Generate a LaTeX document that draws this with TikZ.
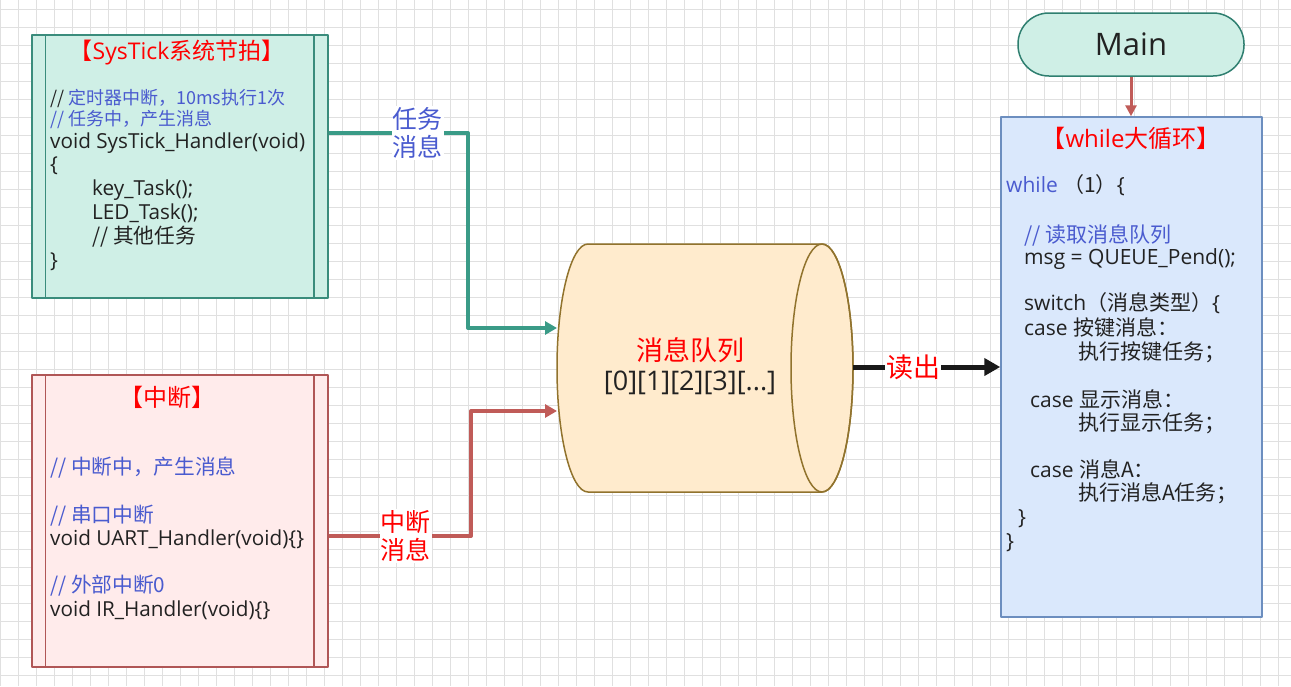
\documentclass[tikz,border=0pt]{standalone}
\usepackage{fontspec}
\setmainfont{Open Sans}
\newfontfamily\cjk{Noto Sans CJK SC}
\usetikzlibrary{arrows.meta}

\definecolor{mintfill}{HTML}{CFEFE6}
\definecolor{mintline}{HTML}{3A8C7C}
\definecolor{mainline}{HTML}{2F7F70}
\definecolor{pinkfill}{HTML}{FFEBEB}
\definecolor{pinkline}{HTML}{B05656}
\definecolor{bluefill}{HTML}{DAE8FC}
\definecolor{blueline}{HTML}{6C8EBF}
\definecolor{queuefill}{HTML}{FFEBCD}
\definecolor{queueline}{HTML}{91732D}
\definecolor{taskteal}{HTML}{3A9B87}
\definecolor{irqred}{HTML}{C05B58}
\definecolor{titlered}{HTML}{FF0000}
\definecolor{cmtblue}{HTML}{4A5BCF}
\definecolor{codegray}{HTML}{222222}
\definecolor{gridgray}{HTML}{E0E0E0}

\newcommand\titlefont{\fontsize{24}{28}\selectfont}
\newcommand\codefont{\fontsize{20.7}{24}\selectfont}
\newcommand\smallcode{\fontsize{18}{21}\selectfont}
\newcommand\loopfont{\fontsize{21}{24}\selectfont}

\tikzset{
  procbox/.style={draw, line width=1.5pt, minimum width=296pt, inner sep=0pt},
  boxtitle/.style={inner sep=0pt, text=titlered, font=\titlefont},
  code/.style={anchor=base west, inner sep=0pt, text=codegray, font=\codefont},
  cmt/.style={code, text=cmtblue, font=\cjk\codefont},
  msglabel/.style={fill=white, inner sep=1pt, align=center, font=\cjk\fontsize{25}{28}\selectfont},
}

\begin{document}
\begin{tikzpicture}[x=1pt, y=-1pt, line join=round]
  \useasboundingbox (0,0) rectangle (1291,686);
  \fill[white] (0,0) rectangle (1291,686);
  % grid background
  \foreach \gx in {0,18,...,1290}
    \draw[gridgray, line width=0.8pt] (\gx,0) -- (\gx,686);
  \foreach \gy in {9,27,...,683}
    \draw[gridgray, line width=0.8pt] (0,\gy) -- (1291,\gy);

  % SysTick box
  \node[procbox, draw=mintline, fill=mintfill, minimum height=263pt] (systick) at (180,166.5) {};
  \draw[mintline, line width=1.5pt] ([xshift=14pt]systick.north west) -- ([xshift=14pt]systick.south west);
  \draw[mintline, line width=1.5pt] ([xshift=-15pt]systick.north east) -- ([xshift=-15pt]systick.south east);
  \node[boxtitle, font=\fontsize{23}{27}\selectfont] (sttitle) at (177,53) {{\cjk 【}SysTick{\cjk 系统节拍】}};
  \node[cmt, font=\cjk\smallcode] (st1) at (50,104) {{\color{codegray}//} 定时器中断，10ms执行1次};
  \node[cmt, font=\cjk\smallcode] (st2) at (50,125) {// 任务中，产生消息};
  \node[code] (st3) at (50,148) {void SysTick\_Handler(void)};
  \node[code] (st4) at (50,171) {\{};
  \node[code] (st5) at (92,195) {key\_Task();};
  \node[code] (st6) at (92,219) {LED\_Task();};
  \node[code, font=\cjk\codefont] (st7) at (92,243) {// 其他任务};
  \node[code] (st8) at (50,267) {\}};

  % interrupt box
  \node[procbox, draw=pinkline, fill=pinkfill, minimum height=292pt] (irq) at (180,521) {};
  \draw[pinkline, line width=1.5pt] ([xshift=14pt]irq.north west) -- ([xshift=14pt]irq.south west);
  \draw[pinkline, line width=1.5pt] ([xshift=-15pt]irq.north east) -- ([xshift=-15pt]irq.south east);
  \node[boxtitle, font=\cjk\titlefont] (irqtitle) at (167,397) {【中断】};
  \node[cmt] (ir1) at (50,474) {// 中断中，产生消息};
  \node[cmt] (ir2) at (50,522) {// 串口中断};
  \node[code] (ir3) at (50,545) {void UART\_Handler(void)\{\}};
  \node[cmt] (ir4) at (50,592) {// 外部中断0};
  \node[code] (ir5) at (50,616) {void IR\_Handler(void)\{\}};

  % message queue
  \draw[queueline, fill=queuefill, line width=1.5pt]
    (588,244) -- (822,244) arc[start angle=-90, end angle=90, x radius=31, y radius=124]
    -- (588,492) arc[start angle=90, end angle=270, x radius=31, y radius=124] -- cycle;
  \draw[queueline, line width=1.5pt] (822,368) ellipse[x radius=31, y radius=124];
  \node[inner sep=0pt, text=titlered, font=\cjk\fontsize{27}{30}\selectfont] (queuetitle) at (690,350) {消息队列};
  \node[inner sep=0pt, text=codegray, font=\fontsize{27}{30}\selectfont] (queuecells) at (690,383) {[0][1][2][3][...]};
  \coordinate (qin1) at (557,328);
  \coordinate (qin2) at (557,411);
  \coordinate (qout) at (853,367);

  % main loop
  \node[draw=mainline, fill=mintfill, line width=1.5pt, rounded corners=31pt,
        minimum width=226pt, minimum height=63pt, font=\fontsize{31}{36}\selectfont,
        text=codegray] (main) at (1131,44.5) {Main};
  \node[draw=blueline, fill=bluefill, line width=1.5pt, minimum width=261pt,
        minimum height=500pt, inner sep=0pt] (whilebox) at (1131.5,367) {};
  \node[boxtitle] (wltitle) at (1131,138) {{\cjk 【}while{\cjk 大循环】}};
  \node[code, font=\loopfont] (wl1) at (1006,192) {\textcolor{cmtblue}{while} {\cjk （1）}\{};
  \node[cmt, font=\cjk\loopfont] (wl2) at (1024,242) {// 读取消息队列};
  \node[code, font=\loopfont] (wl3) at (1024,264) {msg = QUEUE\_Pend();};
  \node[code, font=\loopfont] (wl4) at (1024,310) {switch{\cjk （消息类型）}\{};
  \node[code, font=\loopfont] (wl5) at (1024,335) {case {\cjk 按键消息：}};
  \node[code, font=\cjk\loopfont] (wl6) at (1078,359) {执行按键任务；};
  \node[code, font=\loopfont] (wl7) at (1030,407) {case {\cjk 显示消息：}};
  \node[code, font=\cjk\loopfont] (wl8) at (1078,430) {执行显示任务；};
  \node[code, font=\loopfont] (wl9) at (1030,477) {case {\cjk 消息A：}};
  \node[code, font=\cjk\loopfont] (wl10) at (1078,500) {执行消息A任务；};
  \node[code, font=\loopfont] (wl11) at (1018,524) {\}};
  \node[code, font=\loopfont] (wl12) at (1006,548) {\}};

  % connectors
  \draw[irqred, line width=3pt, -{Triangle[length=11pt, width=11pt]}]
    (main.south) -- (main.south |- whilebox.north);
  \draw[taskteal, line width=4pt, -{Triangle[length=12pt, width=13pt]}]
    ([yshift=33.5pt]systick.east) -| node[msglabel, text=cmtblue, pos=0.32] (tasklbl) {任务\\消息}
    ([xshift=-89pt]qin1) -- (qin1);
  \draw[irqred, line width=4pt, -{Triangle[length=12pt, width=13pt]}]
    ([yshift=-15pt]irq.east) -| node[msglabel, text=titlered, pos=0.27] (irqlbl) {中断\\消息}
    ([xshift=-86pt]qin2) -- (qin2);
  \draw[black!90, line width=5pt, -{Triangle[length=16pt, width=17pt]}]
    (qout) -- node[msglabel, text=titlered, pos=0.41, font=\cjk\fontsize{27}{30}\selectfont] (readlbl) {读出}
    (whilebox.west |- qout);
\end{tikzpicture}
\end{document}
